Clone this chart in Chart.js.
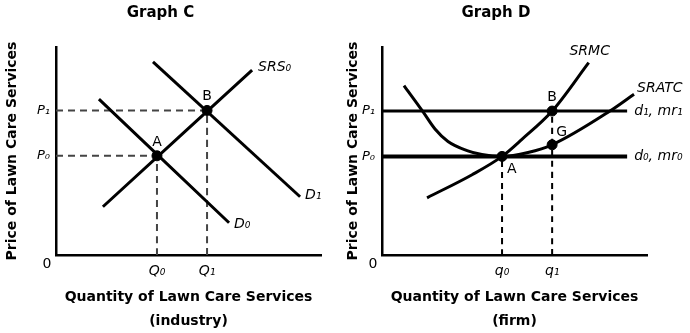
<!DOCTYPE html>
<html>
<head>
<meta charset="utf-8">
<script src="https://cdn.jsdelivr.net/npm/chart.js@4"></script>
<style>
  html, body { margin: 0; padding: 0; background: #fff; }
  .wrap { display: flex; width: 690px; height: 333px; }
  .box { position: relative; width: 345px; height: 333px; }
</style>
</head>
<body>
<div class="wrap">
  <div class="box"><canvas id="graphC"></canvas></div>
  <div class="box"><canvas id="graphD"></canvas></div>
</div>
<script>
// Graph C (industry) - values in price / quantity units
const pricesC = [4.77, 6.95];          // P0, P1
const quantitiesC = [3.81, 5.70];      // Q0, Q1
const priceLabelsC = ['P₀', 'P₁'];
const quantityLabelsC = ['Q₀', 'Q₁'];
const srs0 = [{ x: 1.77, y: 2.32 }, { x: 7.40, y: 8.89 }];
const demand0 = [{ x: 1.62, y: 7.49 }, { x: 6.53, y: 1.55 }];
const demand1 = [{ x: 3.66, y: 9.28 }, { x: 9.21, y: 2.80 }];

// Graph D (firm)
const pricesD = [4.74, 6.92];          // P0, P1
const quantitiesD = [4.53, 6.42];      // q0, q1
const priceLabelsD = ['P₀', 'P₁'];
const quantityLabelsD = ['q₀', 'q₁'];
const priceLineEnd = 9.25;
const srmc = [
    { x: 1.70, y: 2.75 }, { x: 3.40, y: 3.86 }, { x: 4.53, y: 4.74 },
    { x: 5.28, y: 5.56 }, { x: 6.42, y: 6.92 }, { x: 7.80, y: 9.25 }
];
const sratc = [
    { x: 0.83, y: 8.14 }, { x: 1.55, y: 6.88 }, { x: 2.00, y: 6.06 }, { x: 2.49, y: 5.46 },
    { x: 3.21, y: 5.02 }, { x: 3.77, y: 4.83 }, { x: 4.53, y: 4.74 }, { x: 5.51, y: 4.93 },
    { x: 6.42, y: 5.30 }, { x: 8.60, y: 6.92 }, { x: 9.51, y: 7.73 }
];
const pointG = { x: 6.42, y: 5.30 };

const FONT = 'DejaVu Sans';
let chartC, chartD;

function seg(data, width, dash, color) {
    return {
        data, showLine: true, pointRadius: 0, borderColor: color || '#000',
        borderWidth: width, borderDash: dash || [], borderCapStyle: 'butt', fill: false
    };
}

function dots(data) {
    return { data, showLine: false, pointRadius: 5, pointBackgroundColor: '#000', pointBorderColor: '#000', pointBorderWidth: 1 };
}

// draws curve / point names next to their anchors, plus the corner "0"
const labelPlugin = {
    id: 'curveLabels',
    afterDatasetsDraw(chart, args, opts) {
        const { ctx, chartArea, scales: { x, y } } = chart;
        ctx.save();
        ctx.fillStyle = '#000';
        ctx.textBaseline = 'middle';
        (opts.items || []).forEach(l => {
            ctx.font = (l.italic ? 'italic ' : '') + '14px "' + FONT + '"';
            ctx.textAlign = l.align || 'center';
            ctx.fillText(l.text, x.getPixelForValue(l.at.x) + (l.dx || 0), y.getPixelForValue(l.at.y) + (l.dy || 0));
        });
        ctx.font = '14px "' + FONT + '"';
        ctx.textAlign = 'center';
        ctx.fillText('0', chartArea.left - 9, chartArea.bottom + 9);
        ctx.restore();
    }
};

function buildChart(id, spec) {
    const ctx = document.getElementById(id).getContext('2d');
    return new Chart(ctx, {
        type: 'scatter',
        data: { datasets: spec.datasets },
        options: {
            responsive: true, maintainAspectRatio: false, animation: false,
            layout: { padding: { left: 0, right: spec.padRight, top: 0, bottom: 0 } },
            elements: { line: { cubicInterpolationMode: 'monotone' } },
            plugins: {
                legend: { display: false },
                tooltip: { enabled: false },
                title: {
                    display: true, text: spec.title, color: '#000',
                    font: { family: FONT, size: 15, weight: 'bold' },
                    padding: { top: 4, bottom: 25 }
                },
                curveLabels: { items: spec.labels }
            },
            scales: {
                x: {
                    type: 'linear', min: 0, max: 10,
                    grid: { display: false, drawTicks: false },
                    border: { display: true, color: '#000', width: 2.5 },
                    afterBuildTicks: s => { s.ticks = spec.xTicks.map(v => ({ value: v })); },
                    afterFit: s => { s.height = 78; },
                    ticks: {
                        callback: (v, i) => spec.xLabels[i], autoSkip: false, maxRotation: 0,
                        padding: 8, color: '#000', font: { family: FONT, size: 14, style: 'italic' }
                    },
                    title: {
                        display: true, text: ['Quantity of Lawn Care Services', spec.xSub], color: '#000',
                        font: { family: FONT, size: 14, weight: 'bold', lineHeight: 1.7 },
                        padding: { top: 0, bottom: 0 }
                    }
                },
                y: {
                    type: 'linear', min: 0, max: 10,
                    grid: { display: false, drawTicks: false },
                    border: { display: true, color: '#000', width: 2.5 },
                    afterBuildTicks: s => { s.ticks = spec.yTicks.map(v => ({ value: v })); },
                    afterFit: s => { s.width = spec.axisLeft; },
                    ticks: {
                        callback: (v, i) => spec.yLabels[i], autoSkip: false,
                        padding: spec.yTickPad, color: '#000', font: { family: FONT, size: 13, style: 'italic' }
                    },
                    title: {
                        display: true, text: 'Price of Lawn Care Services', color: '#000',
                        font: { family: FONT, size: 14, weight: 'bold' },
                        padding: { top: spec.yTitlePad, bottom: 0 }
                    }
                }
            }
        },
        plugins: [labelPlugin]
    });
}

function renderCharts() {
    const A = { x: quantitiesC[0], y: pricesC[0] };
    const B = { x: quantitiesC[1], y: pricesC[1] };
    const dashC = [7, 5];
    chartC = buildChart('graphC', {
        title: 'Graph C', xSub: '(industry)', padRight: 24, axisLeft: 56, yTickPad: 6, yTitlePad: 3.6,
        xTicks: quantitiesC, xLabels: quantityLabelsC, yTicks: pricesC, yLabels: priceLabelsC,
        datasets: [
            dots([A, B]),
            seg(srs0, 3), seg(demand0, 3), seg(demand1, 3),
            seg([{ x: 0, y: pricesC[1] }, B], 2, dashC, '#444'),
            seg([{ x: 0, y: pricesC[0] }, A], 2, dashC, '#444'),
            seg([{ x: quantitiesC[0], y: 0 }, A], 2, dashC, '#444'),
            seg([{ x: quantitiesC[1], y: 0 }, B], 2, dashC, '#444')
        ],
        labels: [
            { text: 'A', at: A, dy: -13 },
            { text: 'B', at: B, dy: -14 },
            { text: 'SRS₀', at: srs0[1], dx: 6, dy: -3, align: 'left', italic: true },
            { text: 'D₀', at: demand0[1], dx: 5, dy: 2, align: 'left', italic: true },
            { text: 'D₁', at: demand1[1], dx: 5, dy: -1, align: 'left', italic: true }
        ]
    });

    const a = { x: quantitiesD[0], y: pricesD[0] };
    const b = { x: quantitiesD[1], y: pricesD[1] };
    chartD = buildChart('graphD', {
        title: 'Graph D', xSub: '(firm)', padRight: 43, axisLeft: 37, yTickPad: 7, yTitlePad: -0.4,
        xTicks: quantitiesD, xLabels: quantityLabelsD, yTicks: pricesD, yLabels: priceLabelsD,
        datasets: [
            dots([a, b, pointG]),
            seg(srmc, 3), seg(sratc, 3),
            seg([{ x: 0, y: pricesD[1] }, { x: priceLineEnd, y: pricesD[1] }], 3),
            seg([{ x: 0, y: pricesD[0] }, { x: priceLineEnd, y: pricesD[0] }], 4),
            seg([{ x: quantitiesD[0], y: 0 }, a], 2, [6, 5]),
            seg([{ x: quantitiesD[1], y: 0 }, b], 2, [6, 5])
        ],
        labels: [
            { text: 'A', at: a, dx: 5, dy: 13, align: 'left' },
            { text: 'B', at: b, dy: -14 },
            { text: 'G', at: pointG, dx: 4, dy: -12, align: 'left' },
            { text: 'SRMC', at: srmc[srmc.length - 1], dx: 1, dy: -11, italic: true },
            { text: 'SRATC', at: sratc[sratc.length - 1], dx: 3, dy: -6, align: 'left', italic: true },
            { text: 'd₁, mr₁', at: { x: priceLineEnd, y: pricesD[1] }, dx: 7, align: 'left', italic: true },
            { text: 'd₀, mr₀', at: { x: priceLineEnd, y: pricesD[0] }, dx: 7, align: 'left', italic: true }
        ]
    });
}

window.onload = renderCharts;
</script>
</body>
</html>
